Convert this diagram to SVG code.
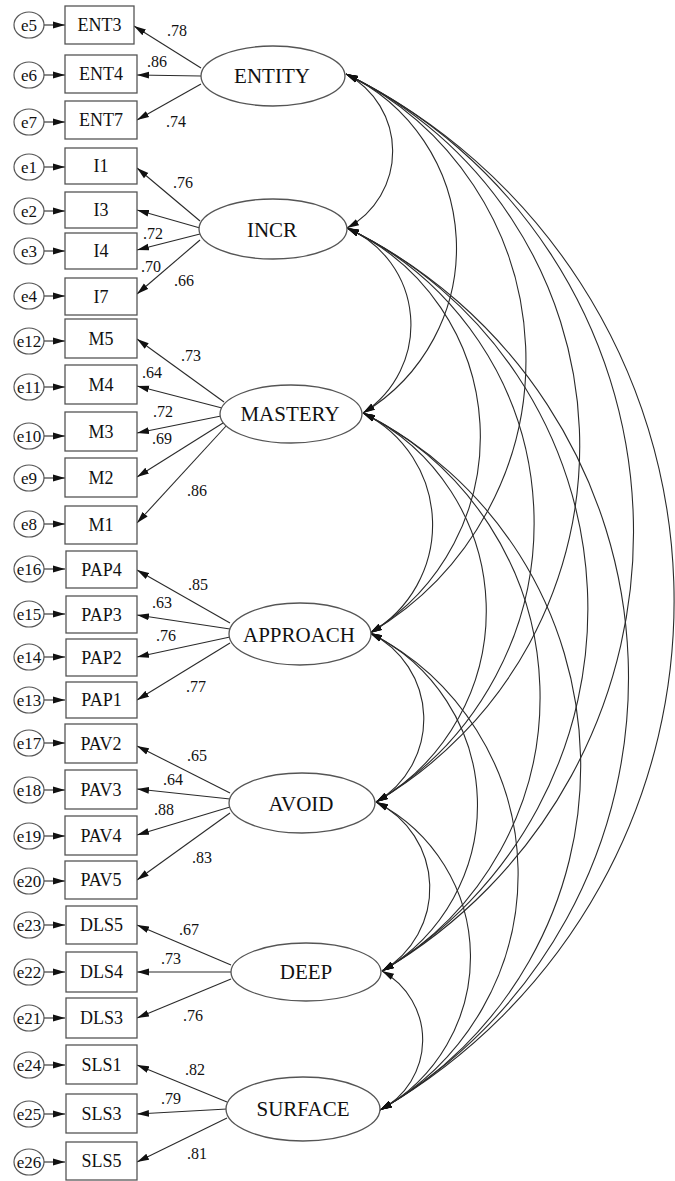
<svg xmlns="http://www.w3.org/2000/svg" width="675" height="1181" viewBox="0 0 675 1181">
<style>
.bg{fill:#ffffff}
.box rect{fill:#ffffff;stroke:#555555;stroke-width:1.3}
.err ellipse{fill:#ffffff;stroke:#555555;stroke-width:1.2}
.lat ellipse{fill:#ffffff;stroke:#555555;stroke-width:1.3}
text{font-family:"Liberation Serif","Times New Roman",serif;fill:#111111;text-anchor:middle;dominant-baseline:central}
.box text{font-size:18px}
.err text{font-size:17px}
.lat text{font-size:21px}
.coef text{font-size:16px}
.ln{fill:none;stroke:#2a2a2a;stroke-width:1.1;marker-end:url(#ah)}
.arc{fill:none;stroke:#2a2a2a;stroke-width:1.1;marker-start:url(#ah2);marker-end:url(#ah2)}
</style>
<defs>
<marker id="ah" viewBox="0 0 12 8" refX="12" refY="4" markerWidth="12" markerHeight="8" markerUnits="userSpaceOnUse" orient="auto">
<path d="M0,0.6 L12,4 L0,7.4 z" fill="#111111"/>
</marker>
<marker id="ah2" viewBox="0 0 12 8" refX="12" refY="4" markerWidth="12" markerHeight="8" markerUnits="userSpaceOnUse" orient="auto-start-reverse">
<path d="M0,0.6 L12,4 L0,7.4 z" fill="#111111"/>
</marker>
</defs>
<rect class="bg" x="0" y="0" width="675" height="1181"/>

<g id="connectors">
<g id="error-arrows">
<path class="ln" d="M44,25 L65,25"/>
<path class="ln" d="M44,75 L65,75"/>
<path class="ln" d="M44,122 L65,122"/>
<path class="ln" d="M44,167 L65,167"/>
<path class="ln" d="M44,211 L65,211"/>
<path class="ln" d="M44,251 L65,251"/>
<path class="ln" d="M44,296 L65,296"/>
<path class="ln" d="M44,341 L65,341"/>
<path class="ln" d="M44,387 L65,387"/>
<path class="ln" d="M44,436 L65,436"/>
<path class="ln" d="M44,478 L65,478"/>
<path class="ln" d="M44,524 L65,524"/>
<path class="ln" d="M44,569 L65,569"/>
<path class="ln" d="M44,614 L65,614"/>
<path class="ln" d="M44,657 L65,657"/>
<path class="ln" d="M44,700 L65,700"/>
<path class="ln" d="M44,743 L65,743"/>
<path class="ln" d="M44,790 L65,790"/>
<path class="ln" d="M44,836 L65,836"/>
<path class="ln" d="M44,881 L65,881"/>
<path class="ln" d="M44,925 L65,925"/>
<path class="ln" d="M44,972 L65,972"/>
<path class="ln" d="M44,1018 L65,1018"/>
<path class="ln" d="M44,1065 L65,1065"/>
<path class="ln" d="M44,1114 L65,1114"/>
<path class="ln" d="M44,1162 L65,1162"/>
</g>
<g id="loadings">
<path class="ln" d="M201,68 L134,26"/>
<path class="ln" d="M201,76 L137,75"/>
<path class="ln" d="M201,84 L137,120"/>
<path class="ln" d="M200,221 L137,168"/>
<path class="ln" d="M200,228 L137,210"/>
<path class="ln" d="M200,234 L137,250"/>
<path class="ln" d="M200,240 L137,294"/>
<path class="ln" d="M224,402 L137,339"/>
<path class="ln" d="M222,408 L137,386"/>
<path class="ln" d="M221,416 L137,433"/>
<path class="ln" d="M223,423 L137,477"/>
<path class="ln" d="M227,425 L137,523"/>
<path class="ln" d="M230,623 L137,570"/>
<path class="ln" d="M230,629 L137,615"/>
<path class="ln" d="M230,637 L137,657"/>
<path class="ln" d="M230,643 L137,700"/>
<path class="ln" d="M230,793 L137,746"/>
<path class="ln" d="M230,799 L137,789"/>
<path class="ln" d="M230,807 L137,835"/>
<path class="ln" d="M230,813 L137,880"/>
<path class="ln" d="M231,965 L137,925"/>
<path class="ln" d="M231,972 L137,972"/>
<path class="ln" d="M231,979 L137,1018"/>
<path class="ln" d="M227,1102 L137,1065"/>
<path class="ln" d="M227,1109 L137,1114"/>
<path class="ln" d="M227,1118 L137,1162"/>
</g>
<g id="covariances">
<path class="arc" d="M346,74 A87.3,87.3 0 0 1 347,228"/>
<path class="arc" d="M346,74 A192.3,192.3 0 0 1 363,413"/>
<path class="arc" d="M346,74 A317.1,317.1 0 0 1 370,633"/>
<path class="arc" d="M346,74 A412.9,412.9 0 0 1 376,802"/>
<path class="arc" d="M346,74 A508.7,508.7 0 0 1 382,971"/>
<path class="arc" d="M346,74 A587.4,587.4 0 0 1 380,1110"/>
<path class="arc" d="M347,228 A105.2,105.2 0 0 1 363,413"/>
<path class="arc" d="M347,228 A229.9,229.9 0 0 1 370,633"/>
<path class="arc" d="M347,228 A325.7,325.7 0 0 1 376,802"/>
<path class="arc" d="M347,228 A421.5,421.5 0 0 1 382,971"/>
<path class="arc" d="M347,228 A500.1,500.1 0 0 1 380,1110"/>
<path class="arc" d="M363,413 A124.7,124.7 0 0 1 370,633"/>
<path class="arc" d="M363,413 A220.6,220.6 0 0 1 376,802"/>
<path class="arc" d="M363,413 A316.4,316.4 0 0 1 382,971"/>
<path class="arc" d="M363,413 A395.1,395.1 0 0 1 380,1110"/>
<path class="arc" d="M370,633 A95.8,95.8 0 0 1 376,802"/>
<path class="arc" d="M370,633 A191.7,191.7 0 0 1 382,971"/>
<path class="arc" d="M370,633 A270.4,270.4 0 0 1 380,1110"/>
<path class="arc" d="M376,802 A95.8,95.8 0 0 1 382,971"/>
<path class="arc" d="M376,802 A174.5,174.5 0 0 1 380,1110"/>
<path class="arc" d="M382,971 A78.8,78.8 0 0 1 380,1110"/>
</g>
<g id="coefficients" class="coef">
<text x="177" y="30">.78</text>
<text x="157" y="61">.86</text>
<text x="176" y="121">.74</text>
<text x="183" y="182">.76</text>
<text x="153" y="233">.72</text>
<text x="151" y="266">.70</text>
<text x="184" y="280">.66</text>
<text x="191" y="355">.73</text>
<text x="152" y="372">.64</text>
<text x="163" y="411">.72</text>
<text x="162" y="438">.69</text>
<text x="197" y="490">.86</text>
<text x="198" y="584">.85</text>
<text x="162" y="602">.63</text>
<text x="166" y="635">.76</text>
<text x="196" y="686">.77</text>
<text x="197" y="755">.65</text>
<text x="173" y="779">.64</text>
<text x="164" y="809">.88</text>
<text x="202" y="857">.83</text>
<text x="189" y="929">.67</text>
<text x="171" y="958">.73</text>
<text x="193" y="1015">.76</text>
<text x="195" y="1069">.82</text>
<text x="171" y="1098">.79</text>
<text x="197" y="1153">.81</text>
</g>
</g>

<g id="e5" class="err"><ellipse cx="29" cy="25" rx="15" ry="13"/><text x="29" y="25">e5</text></g>
<g id="e6" class="err"><ellipse cx="29" cy="75" rx="15" ry="13"/><text x="29" y="75">e6</text></g>
<g id="e7" class="err"><ellipse cx="29" cy="122" rx="15" ry="13"/><text x="29" y="122">e7</text></g>
<g id="e1" class="err"><ellipse cx="29" cy="167" rx="15" ry="13"/><text x="29" y="167">e1</text></g>
<g id="e2" class="err"><ellipse cx="29" cy="211" rx="15" ry="13"/><text x="29" y="211">e2</text></g>
<g id="e3" class="err"><ellipse cx="29" cy="251" rx="15" ry="13"/><text x="29" y="251">e3</text></g>
<g id="e4" class="err"><ellipse cx="29" cy="296" rx="15" ry="13"/><text x="29" y="296">e4</text></g>
<g id="e12" class="err"><ellipse cx="29" cy="341" rx="15" ry="13"/><text x="29" y="341">e12</text></g>
<g id="e11" class="err"><ellipse cx="29" cy="387" rx="15" ry="13"/><text x="29" y="387">e11</text></g>
<g id="e10" class="err"><ellipse cx="29" cy="436" rx="15" ry="13"/><text x="29" y="436">e10</text></g>
<g id="e9" class="err"><ellipse cx="29" cy="478" rx="15" ry="13"/><text x="29" y="478">e9</text></g>
<g id="e8" class="err"><ellipse cx="29" cy="524" rx="15" ry="13"/><text x="29" y="524">e8</text></g>
<g id="e16" class="err"><ellipse cx="29" cy="569" rx="15" ry="13"/><text x="29" y="569">e16</text></g>
<g id="e15" class="err"><ellipse cx="29" cy="614" rx="15" ry="13"/><text x="29" y="614">e15</text></g>
<g id="e14" class="err"><ellipse cx="29" cy="657" rx="15" ry="13"/><text x="29" y="657">e14</text></g>
<g id="e13" class="err"><ellipse cx="29" cy="700" rx="15" ry="13"/><text x="29" y="700">e13</text></g>
<g id="e17" class="err"><ellipse cx="29" cy="743" rx="15" ry="13"/><text x="29" y="743">e17</text></g>
<g id="e18" class="err"><ellipse cx="29" cy="790" rx="15" ry="13"/><text x="29" y="790">e18</text></g>
<g id="e19" class="err"><ellipse cx="29" cy="836" rx="15" ry="13"/><text x="29" y="836">e19</text></g>
<g id="e20" class="err"><ellipse cx="29" cy="881" rx="15" ry="13"/><text x="29" y="881">e20</text></g>
<g id="e23" class="err"><ellipse cx="29" cy="925" rx="15" ry="13"/><text x="29" y="925">e23</text></g>
<g id="e22" class="err"><ellipse cx="29" cy="972" rx="15" ry="13"/><text x="29" y="972">e22</text></g>
<g id="e21" class="err"><ellipse cx="29" cy="1018" rx="15" ry="13"/><text x="29" y="1018">e21</text></g>
<g id="e24" class="err"><ellipse cx="29" cy="1065" rx="15" ry="13"/><text x="29" y="1065">e24</text></g>
<g id="e25" class="err"><ellipse cx="29" cy="1114" rx="15" ry="13"/><text x="29" y="1114">e25</text></g>
<g id="e26" class="err"><ellipse cx="29" cy="1162" rx="15" ry="13"/><text x="29" y="1162">e26</text></g>

<g id="ENT3" class="box"><rect x="65" y="6" width="69" height="38"/><text x="99.5" y="25">ENT3</text></g>
<g id="ENT4" class="box"><rect x="65" y="55" width="72" height="38"/><text x="101" y="74">ENT4</text></g>
<g id="ENT7" class="box"><rect x="65" y="101" width="72" height="38"/><text x="101" y="120">ENT7</text></g>
<g id="I1" class="box"><rect x="65" y="148" width="72" height="36"/><text x="101" y="166">I1</text></g>
<g id="I3" class="box"><rect x="65" y="192" width="72" height="36"/><text x="101" y="210">I3</text></g>
<g id="I4" class="box"><rect x="65" y="233" width="72" height="36"/><text x="101" y="251">I4</text></g>
<g id="I7" class="box"><rect x="65" y="278" width="72" height="37"/><text x="101" y="296.5">I7</text></g>
<g id="M5" class="box"><rect x="65" y="319" width="72" height="39"/><text x="101" y="338.5">M5</text></g>
<g id="M4" class="box"><rect x="65" y="365" width="72" height="39"/><text x="101" y="384.5">M4</text></g>
<g id="M3" class="box"><rect x="65" y="412" width="72" height="39"/><text x="101" y="431.5">M3</text></g>
<g id="M2" class="box"><rect x="65" y="458" width="72" height="39"/><text x="101" y="477.5">M2</text></g>
<g id="M1" class="box"><rect x="65" y="506" width="72" height="38"/><text x="101" y="525">M1</text></g>
<g id="PAP4" class="box"><rect x="66" y="551" width="71" height="37"/><text x="101.5" y="569.5">PAP4</text></g>
<g id="PAP3" class="box"><rect x="66" y="596" width="71" height="37"/><text x="101.5" y="614.5">PAP3</text></g>
<g id="PAP2" class="box"><rect x="66" y="639" width="71" height="37"/><text x="101.5" y="657.5">PAP2</text></g>
<g id="PAP1" class="box"><rect x="66" y="682" width="71" height="36"/><text x="101.5" y="700">PAP1</text></g>
<g id="PAV2" class="box"><rect x="65" y="724" width="72" height="39"/><text x="101" y="743.5">PAV2</text></g>
<g id="PAV3" class="box"><rect x="65" y="770" width="72" height="39"/><text x="101" y="789.5">PAV3</text></g>
<g id="PAV4" class="box"><rect x="65" y="816" width="72" height="39"/><text x="101" y="835.5">PAV4</text></g>
<g id="PAV5" class="box"><rect x="65" y="861" width="72" height="38"/><text x="101" y="880">PAV5</text></g>
<g id="DLS5" class="box"><rect x="66" y="906" width="71" height="38"/><text x="101.5" y="925">DLS5</text></g>
<g id="DLS4" class="box"><rect x="66" y="952" width="71" height="40"/><text x="101.5" y="972">DLS4</text></g>
<g id="DLS3" class="box"><rect x="66" y="998" width="71" height="40"/><text x="101.5" y="1018">DLS3</text></g>
<g id="SLS1" class="box"><rect x="66" y="1045" width="71" height="39"/><text x="101.5" y="1064.5">SLS1</text></g>
<g id="SLS3" class="box"><rect x="66" y="1094" width="71" height="39"/><text x="101.5" y="1113.5">SLS3</text></g>
<g id="SLS5" class="box"><rect x="66" y="1142" width="71" height="38"/><text x="101.5" y="1161">SLS5</text></g>

<g id="ENTITY" class="lat"><ellipse cx="273" cy="76" rx="72" ry="30"/><text x="272" y="76">ENTITY</text></g>
<g id="INCR" class="lat"><ellipse cx="273" cy="229" rx="74" ry="30"/><text x="272" y="230">INCR</text></g>
<g id="MASTERY" class="lat"><ellipse cx="291" cy="414" rx="71" ry="29"/><text x="290" y="414">MASTERY</text></g>
<g id="APPROACH" class="lat"><ellipse cx="300" cy="634" rx="71" ry="31"/><text x="299" y="635">APPROACH</text></g>
<g id="AVOID" class="lat"><ellipse cx="302" cy="803" rx="73" ry="30"/><text x="301" y="804">AVOID</text></g>
<g id="DEEP" class="lat"><ellipse cx="306" cy="972" rx="75" ry="29"/><text x="306" y="972">DEEP</text></g>
<g id="SURFACE" class="lat"><ellipse cx="303" cy="1109" rx="77" ry="32"/><text x="303" y="1109">SURFACE</text></g>
</svg>
